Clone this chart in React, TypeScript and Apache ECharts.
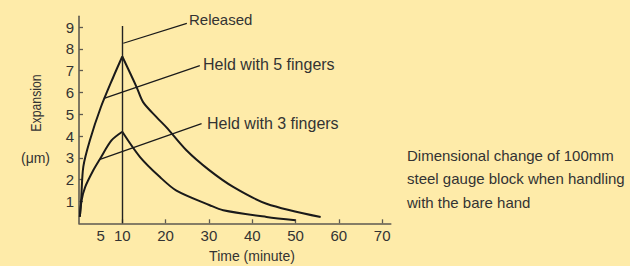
import React, { useEffect, useRef } from "react";
import * as echarts from "echarts";

// Time (minute) vs expansion (µm)
const fiveRise: [number, number][] = [
  [0.2, 0.3], [0.5, 1.1], [1, 2.6], [2.5, 3.8], [5, 5.3], [7.9, 6.7], [10, 7.65],
];
const fiveDecay: [number, number][] = [
  [10, 7.65], [13.3, 6.25], [14.8, 5.56], [17.9, 4.87], [20.2, 4.4], [24.8, 3.35],
  [30, 2.45], [35.6, 1.67], [43.3, 0.9], [55.8, 0.29],
];
const threeRise: [number, number][] = [
  [0.2, 0.3], [0.6, 1.05], [1.4, 1.65], [3.3, 2.43], [4.85, 2.95], [7.5, 3.8], [10, 4.2],
];
const threeDecay: [number, number][] = [
  [10, 4.2], [14.1, 3.04], [18.7, 2.12], [22.5, 1.5], [30.2, 0.83], [33.3, 0.6],
  [43.3, 0.29], [50, 0.14],
];
const xTickValues = [10, 20, 30, 40, 50, 60, 70];
const xLabelValues = [5, 10, 20, 30, 40, 50, 60, 70];
const yValues = [1, 2, 3, 4, 5, 6, 7, 8, 9];
const releasedAt = 10;
const labels = ["Released", "Held with 5 fingers", "Held with 3 fingers"];
const caption = [
  "Dimensional change of 100mm",
  "steel gauge block when handling",
  "with the bare hand",
];

const FONT = "'Liberation Sans', Arial, sans-serif";
const TXT = "#333";

export default function App() {
  const ref = useRef<HTMLDivElement>(null);
  useEffect(() => {
    if (!ref.current) return;
    const chart = echarts.init(ref.current, null, { renderer: "svg" });
    const curve = (data: [number, number][], name: string) => ({
      type: "line",
      name,
      data,
      smooth: 0.3,
      showSymbol: false,
      lineStyle: { color: "#1a1a1a", width: 2 },
      silent: true,
    });
    const annLine = { color: "#1a1a1a", width: 1.2, type: "solid" };
    chart.setOption({
      animation: false,
      backgroundColor: "#FEEBA9",
      grid: { left: 79, right: 239.2, top: 16.2, bottom: 42.7 },
      xAxis: {
        type: "value",
        min: 0,
        max: 72,
        axisLine: { show: true, lineStyle: { color: "#5e5a50", width: 1.6 } },
        axisTick: {
          show: true,
          inside: true,
          length: 4,
          customValues: xTickValues,
          lineStyle: { color: "#5e5a50", width: 1.3 },
        },
        axisLabel: {
          customValues: xLabelValues,
          margin: 5,
          color: TXT,
          fontSize: 15,
          fontFamily: FONT,
        },
        splitLine: { show: false },
      },
      yAxis: {
        type: "value",
        min: 0,
        max: 9.5,
        axisLine: { show: true, lineStyle: { color: "#5e5a50", width: 1.6 } },
        axisTick: {
          show: true,
          inside: true,
          length: 4,
          customValues: yValues,
          lineStyle: { color: "#5e5a50", width: 1.3 },
        },
        axisLabel: {
          customValues: yValues,
          margin: 5,
          color: TXT,
          fontSize: 15,
          fontFamily: FONT,
        },
        splitLine: { show: false },
      },
      series: [
        curve(fiveRise, "5 fingers"),
        curve(fiveDecay, "5 fingers"),
        curve(threeRise, "3 fingers"),
        curve(threeDecay, "3 fingers"),
        {
          type: "line",
          data: [],
          silent: true,
          markLine: {
            silent: true,
            symbol: "none",
            label: { show: false },
            lineStyle: annLine,
            data: [
              [
                { coord: [releasedAt, 0], lineStyle: { width: 1.4, type: "solid", color: "#222" } },
                { coord: [releasedAt, 9.05] },
              ],
              [{ coord: [10.23, 8.26], lineStyle: annLine }, { coord: [24.9, 9.17] }],
              [{ coord: [5.78, 5.73], lineStyle: annLine }, { coord: [27.9, 7.23] }],
              [{ coord: [4.85, 2.93], lineStyle: annLine }, { coord: [28.3, 4.57] }],
            ],
          },
        },
      ],
      graphic: [
        { type: "text", x: 189, y: 19, style: { text: labels[0], fill: TXT, font: `15px ${FONT}`, verticalAlign: "middle" } },
        { type: "text", x: 203, y: 64, style: { text: labels[1], fill: TXT, font: `16px ${FONT}`, verticalAlign: "middle" } },
        { type: "text", x: 207, y: 123, style: { text: labels[2], fill: TXT, font: `16px ${FONT}`, verticalAlign: "middle" } },
        {
          type: "text",
          x: 36,
          y: 103,
          rotation: Math.PI / 2,
          scaleX: 0.82,
          style: { text: "Expansion", fill: TXT, font: `15px ${FONT}`, align: "center", verticalAlign: "middle" },
        },
        { type: "text", x: 35.5, y: 158, style: { text: "(μm)", fill: TXT, font: `14px ${FONT}`, align: "center", verticalAlign: "middle" } },
        { type: "text", x: 252, y: 256, style: { text: "Time (minute)", fill: TXT, font: `14px ${FONT}`, align: "center", verticalAlign: "middle" } },
        ...caption.map((t, i) => ({
          type: "text",
          x: 407,
          y: 155 + i * 23.5,
          style: { text: t, fill: TXT, font: `15px ${FONT}`, verticalAlign: "middle" },
        })),
      ],
    });
    return () => chart.dispose();
  }, []);
  return <div ref={ref} style={{ width: 630, height: 266, position: "fixed", left: 0, top: 0 }} />;
}
